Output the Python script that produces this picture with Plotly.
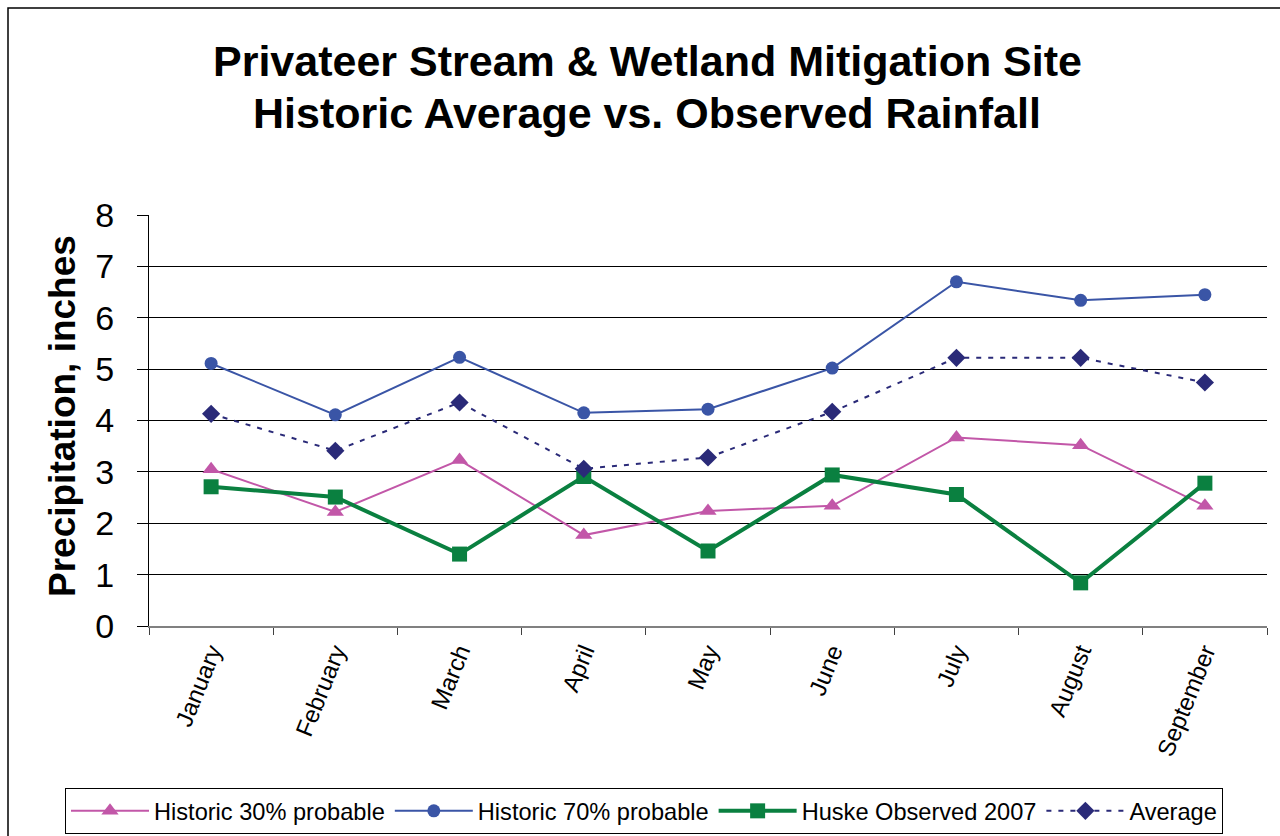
import plotly.graph_objects as go

months = ["January", "February", "March", "April", "May", "June", "July", "August", "September"]
hist30 = [3.05, 2.22, 3.23, 1.77, 2.24, 2.34, 3.67, 3.52, 2.34]
hist70 = [5.11, 4.11, 5.23, 4.15, 4.22, 5.02, 6.70, 6.34, 6.45]
observed = [2.71, 2.51, 1.40, 2.91, 1.46, 2.94, 2.56, 0.84, 2.78]
average = [4.13, 3.41, 4.35, 3.06, 3.28, 4.17, 5.22, 5.22, 4.74]

title1 = "Privateer Stream & Wetland Mitigation Site"
title2 = "Historic Average vs. Observed Rainfall"
ytitle = "Precipitation, inches"

FONT = "Liberation Sans, Arial, sans-serif"

fig = go.Figure()
fig.add_trace(go.Scatter(x=months, y=hist30, name="Historic 30% probable", mode="lines+markers",
                         line=dict(color="#C257A8", width=2),
                         marker=dict(symbol="triangle-up", size=15, color="#C257A8")))
fig.add_trace(go.Scatter(x=months, y=hist70, name="Historic 70% probable", mode="lines+markers",
                         line=dict(color="#3A55A6", width=2),
                         marker=dict(symbol="circle", size=13, color="#3A55A6")))
fig.add_trace(go.Scatter(x=months, y=observed, name="Huske Observed 2007", mode="lines+markers",
                         line=dict(color="#0A8040", width=4),
                         marker=dict(symbol="square", size=15, color="#0A8040")))
fig.add_trace(go.Scatter(x=months, y=average, name="Average", mode="lines+markers",
                         line=dict(color="#2A2A78", width=2, dash="5px,7px"),
                         marker=dict(symbol="diamond", size=14, color="#2A2A78")))

L, R, T, B = 149, 13, 215, 210
W, H = 1280, 836
pw = W - L - R
ph = H - T - B

def px(x):
    return (x - L) / pw

def py(y):
    return (H - B - y) / ph

fig.update_layout(
    width=W, height=H,
    margin=dict(l=L, r=R, t=T, b=B, autoexpand=False),
    paper_bgcolor="white", plot_bgcolor="white",
    font=dict(family=FONT, color="black"),
    showlegend=True,
    legend=dict(orientation="h", xref="paper", yref="paper",
                x=px(65), xanchor="left", y=py(811), yanchor="middle",
                bgcolor="white", bordercolor="black", borderwidth=1,
                font=dict(size=23.6, family=FONT), itemwidth=78,
                tracegroupgap=0, traceorder="normal"),
    xaxis=dict(range=[-0.5, 8.5], showgrid=False, showline=True, linecolor="#808080", linewidth=2,
               ticks="outside", tickson="boundaries", ticklen=7, tickcolor="#404040", tickwidth=1,
               tickangle=-68, tickfont=dict(size=24, family=FONT), zeroline=False),
    yaxis=dict(range=[0, 8], dtick=1, showgrid=True, gridcolor="black", gridwidth=1,
               showline=True, linecolor="black", linewidth=1, zeroline=False,
               ticks="outside", ticklen=11, tickcolor="black",
               tickfont=dict(size=34, family=FONT), ticklabelstandoff=16),
    annotations=[
        dict(text="<b>%s</b>" % title1, xref="paper", yref="paper", x=px(647), y=py(61),
             xanchor="center", yanchor="middle", showarrow=False, font=dict(size=43, family=FONT)),
        dict(text="<b>%s</b>" % title2, xref="paper", yref="paper", x=px(647), y=py(113),
             xanchor="center", yanchor="middle", showarrow=False, font=dict(size=43, family=FONT)),
        dict(text="<b>%s</b>" % ytitle, xref="paper", yref="paper", x=px(62), y=py(416),
             xanchor="center", yanchor="middle", textangle=-90, showarrow=False,
             font=dict(size=37, family=FONT)),
    ],
    shapes=[
        dict(type="rect", xref="paper", yref="paper", x0=px(8), x1=px(1300), y0=py(8), y1=py(860),
             line=dict(color="black", width=1.5), fillcolor="rgba(0,0,0,0)", layer="below"),
    ],
)

fig.write_html("out.html")
